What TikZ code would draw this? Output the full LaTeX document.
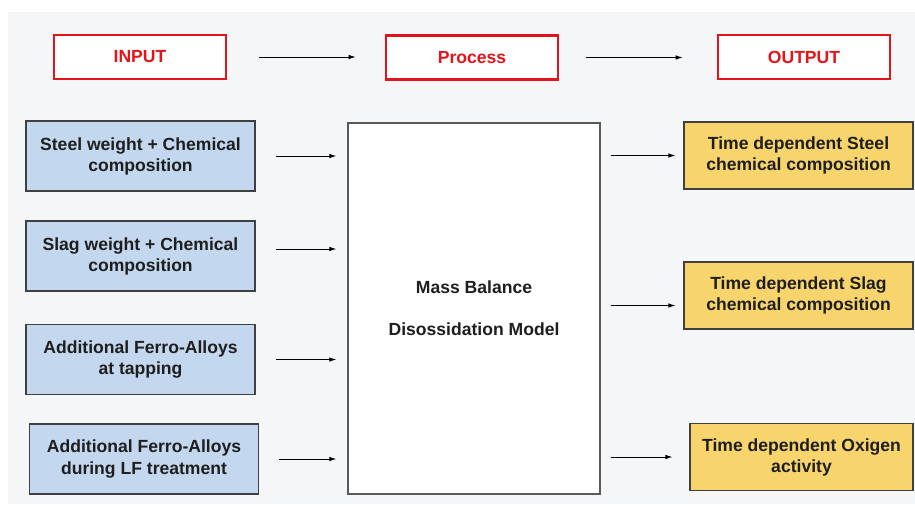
\documentclass[tikz,border=0pt]{standalone}
\usepackage{fontspec}
\setmainfont{Liberation Sans}
\usetikzlibrary{arrows.meta}
\definecolor{inblue}{HTML}{C3D8EE}
\definecolor{outyellow}{HTML}{F8D46C}
\definecolor{hdred}{HTML}{E3151B}
\definecolor{slidebg}{HTML}{F4F6F8}
\definecolor{ink}{HTML}{1E1E1E}
\tikzset{
  head/.style={draw=hdred,line width=1.6pt,fill=white,text=hdred,font=\bfseries,
    minimum width=3.44cm,minimum height=0.88cm},
  inbox/.style={draw=black!75,line width=0.7pt,fill=inblue,text=ink,font=\bfseries,
    align=center,minimum width=4.58cm,minimum height=1.4cm},
  outbox/.style={draw=black!75,line width=0.7pt,fill=outyellow,text=ink,font=\bfseries,
    align=center,minimum width=4.58cm,minimum height=1.34cm},
  flow/.style={-{Latex[length=4pt,width=2.6pt]},line width=0.5pt}
}
\begin{document}
\begin{tikzpicture}[x=0.02cm,y=-0.02cm]
  \useasboundingbox (0,0) rectangle (915,504);
  \fill[slidebg] (8,12) rectangle (915,504);
  % headings
  \node[head] (input) at (140,57) {INPUT};
  \node[head] (process) at (472,57.5) {Process};
  \node[head] (output) at (804,57) {OUTPUT};
  \draw[flow,shorten <=0.64cm,shorten >=0.58cm] (input.east) -- (process.west |- input.east);
  \draw[flow,shorten <=0.54cm,shorten >=0.68cm] (process.east) -- (output.west |- process.east);
  % inputs
  \node[inbox] (in1) at (140.5,156) {Steel weight + Chemical\\composition};
  \node[inbox] (in2) at (140.5,256) {Slag weight + Chemical\\composition};
  \node[inbox] (in3) at (140.5,359.5) {Additional Ferro-Alloys\\at tapping};
  \node[inbox] (in4) at (144,459) {Additional Ferro-Alloys\\during LF treatment};
  % model
  \node[draw=black!65,line width=0.8pt,fill=white,text=ink,font=\bfseries,align=center,
    minimum width=5.04cm,minimum height=7.42cm] (model) at (474,308.5)
    {Mass Balance\\[12pt]Disossidation Model};
  % outputs
  \node[outbox] (out1) at (798.5,155.5) {Time dependent Steel\\chemical composition};
  \node[outbox] (out2) at (798.5,295.5) {Time dependent Slag\\chemical composition};
  \node[outbox,minimum width=4.46cm] (out3) at (801.5,457) {Time dependent Oxigen\\activity};
  \foreach \i/\d in {1/0,2/0.14,3/0,4/0}
    \draw[flow,shorten <=0.4cm,shorten >=0.22cm] ([yshift=\d cm]in\i.east)
      -- ([yshift=\d cm]model.west |- in\i.east);
  \foreach \i/\g/\d in {1/0.16/0,2/0.16/-0.2,3/0.34/0}
    \draw[flow,shorten <=0.2cm,shorten >=\g cm] ([yshift=\d cm]model.east |- out\i.west)
      -- ([yshift=\d cm]out\i.west);
\end{tikzpicture}
\end{document}
